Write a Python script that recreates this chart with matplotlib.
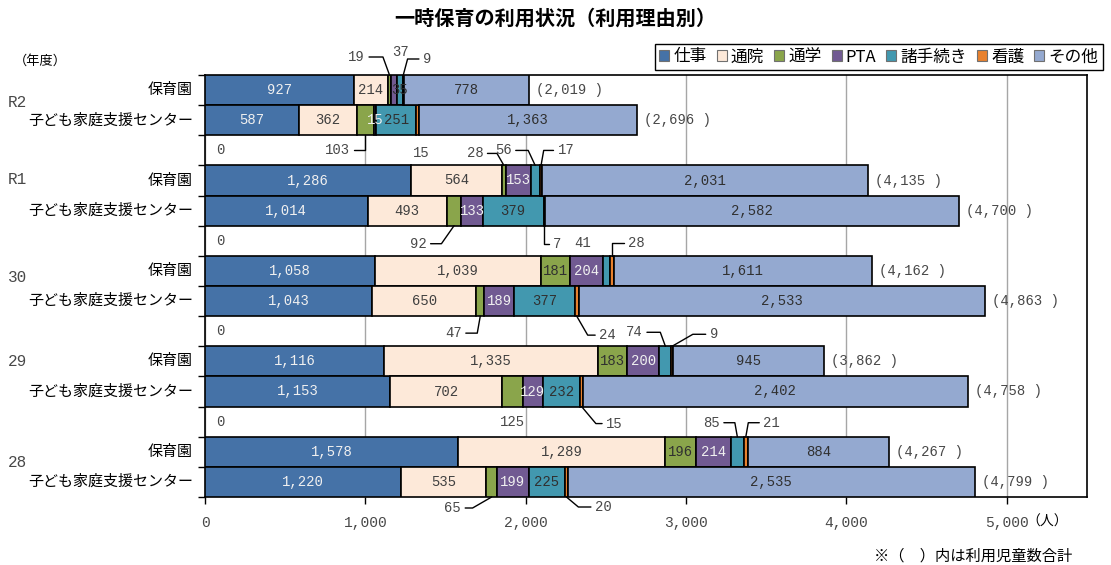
import matplotlib
matplotlib.use('Agg')
import matplotlib.pyplot as plt
from matplotlib.patches import Patch
from matplotlib.ticker import FuncFormatter
import numpy as np

plt.rcParams['font.family'] = ['Noto Sans CJK JP', 'DejaVu Sans']

title = "一時保育の利用状況（利用理由別）"
series_names = ["仕事", "通院", "通学", "PTA", "諸手続き", "看護", "その他"]
years = ["R2", "R1", "30", "29", "28"]
facilities = ["保育園", "子ども家庭支援センター"]

# bars in order: (R2 保育園, R2 子ども), (R1 ...), (30 ...), (29 ...), (28 ...)
shigoto   = [927, 587, 1286, 1014, 1058, 1043, 1116, 1153, 1578, 1220]
tsuin     = [214, 362, 564, 493, 1039, 650, 1335, 702, 1289, 535]
tsugaku   = [19, 103, 28, 92, 181, 47, 183, 125, 196, 65]
pta       = [37, 15, 153, 133, 204, 189, 200, 129, 214, 199]
tetsuzuki = [35, 251, 56, 379, 41, 377, 74, 232, 85, 225]
kango     = [9, 15, 17, 7, 28, 24, 9, 15, 21, 20]
sonota    = [778, 1363, 2031, 2582, 1611, 2533, 945, 2402, 884, 2535]
xticks = [0, 1000, 2000, 3000, 4000, 5000]

series = [shigoto, tsuin, tsugaku, pta, tetsuzuki, kango, sonota]
colors = ["#4572a7", "#fde9d9", "#8aa54b", "#715a92", "#4298af", "#e8812e", "#94a9d0"]
text_colors = ["#f0f0f0", "#404040", "#303030", "#f0f0f0", "#303030", "#303030", "#303030"]

# callout label placement: (bar index, series index) -> (dx px, dy px, leader steepness or None)
callouts = {
    (0, 2): (-33, 18, 70), (0, 3): (7, 23, None), (0, 5): (24, 16, 75),
    (1, 2): (-28, -15, 90), (1, 5): (4, -18, None),
    (2, 2): (-29, 12, 60), (2, 4): (-32, 15, 65), (2, 5): (25, 15, 80),
    (3, 2): (-36, -18, 55), (3, 5): (13, -18, 90),
    (4, 4): (-24, 13, None), (4, 5): (25, 13, 90),
    (5, 2): (-27, -17, 80), (5, 5): (31, -19, 60),
    (6, 4): (-31, 14, 70), (6, 5): (42, 12, 30),
    (7, 2): (0, -15, None), (7, 5): (33, -17, 50),
    (8, 4): (-26, 14, 80), (8, 5): (26, 14, 80),
    (9, 2): (-39, -11, 30), (9, 5): (37, -10, 40),
}
year_label_y = [0.40, 2.98, 6.23, 9.02, 12.37]

num_font = 'Liberation Mono'
num_color = '#484848'

fig = plt.figure(figsize=(11.11, 5.65), dpi=100)
ax = fig.add_axes([205/1111, 1-497/565, (1087-205)/1111, (497-75)/565])

nbars = len(shigoto)
ypos = np.array([3*(k//2) + (k % 2) for k in range(nbars)], dtype=float)

left = np.zeros(nbars)
for s, (vals, col) in enumerate(zip(series, colors)):
    vals = np.array(vals, dtype=float)
    ax.barh(ypos, vals, left=left, height=1.0, color=col, edgecolor='black',
            linewidth=1.2, zorder=3)
    for k in range(nbars):
        cx = left[k] + vals[k]/2
        txt = f"{int(vals[k]):,}"
        if (k, s) in callouts:
            dx, dy, steep = callouts[(k, s)]
            edge = ypos[k] - 0.5 if dy > 0 else ypos[k] + 0.5
            if steep is None:
                ax.annotate(txt, xy=(cx, edge), xytext=(dx, dy), textcoords='offset pixels',
                            ha='center', va='center', fontsize=10, family=num_font,
                            color=num_color, zorder=5)
            else:
                ang = 180 - steep if ((dx < 0) == (dy > 0)) else steep
                ax.annotate(txt, xy=(cx, edge), xytext=(dx, dy), textcoords='offset pixels',
                            ha='center', va='center', fontsize=10, family=num_font,
                            color=num_color, zorder=5,
                            arrowprops=dict(arrowstyle='-', color='black', lw=1.0,
                                            connectionstyle=f'angle,angleA=0,angleB={ang},rad=0',
                                            relpos=(1, 0.5) if dx < 0 else (0, 0.5),
                                            shrinkA=1, shrinkB=0))
        else:
            ax.text(cx, ypos[k], txt, ha='center', va='center', fontsize=10,
                    family=num_font, color=text_colors[s], zorder=5)
    left = left + vals

# totals
for k in range(nbars):
    ax.annotate(f"({int(left[k]):,} )", xy=(left[k], ypos[k]), xytext=(7, 0),
                textcoords='offset pixels', ha='left', va='center', fontsize=10,
                family=num_font, color=num_color, zorder=5)

# zero labels for spacer rows
for g in range(len(years) - 1):
    ax.annotate("0", xy=(0, 3*g + 2), xytext=(15, 0), textcoords='offset pixels',
                ha='center', va='center', fontsize=10, family=num_font, color=num_color)

# category labels
for k in range(nbars):
    ax.annotate(facilities[k % 2], xy=(0, ypos[k]), xycoords=('axes fraction', 'data'),
                xytext=(-12, 0), textcoords='offset pixels', ha='right', va='center',
                fontsize=10.8, color='black')

# year labels
for yl, yy in zip(years, year_label_y):
    ax.annotate(yl, xy=(8, yy), xycoords=('figure pixels', 'data'), ha='left',
                va='center', fontsize=11.5, family=num_font, color=num_color)

ax.set_xlim(0, 5500)
ax.set_ylim(13.5, -0.5)
ax.set_xticks(xticks)
ax.xaxis.set_major_formatter(FuncFormatter(lambda v, p: f"{int(v):,}"))
for lab in ax.get_xticklabels():
    lab.set_family(num_font)
ax.tick_params(axis='x', direction='out', length=5, width=1, pad=9, labelsize=10.5,
               labelcolor=num_color, color='black')
ax.set_yticks([])
ax.set_yticks(np.arange(-0.5, 14, 1), minor=True)
ax.tick_params(axis='y', which='minor', direction='out', length=5, width=1, color='black')
ax.grid(axis='x', color='#a6a6a6', linewidth=1.0, zorder=0)
ax.set_axisbelow(True)
for sp in ax.spines.values():
    sp.set_color('black')
    sp.set_linewidth(1.2)

fig.text(555/1111, 1-18/565, title, ha='center', va='center', fontsize=14.5,
         fontweight='bold')
fig.text(40/1111, 1-61/565, "（年度）", ha='center', va='center', fontsize=9.5)
fig.text(1047/1111, 1-522/565, "（人）", ha='center', va='center', fontsize=10)
fig.text(973/1111, 1-556/565, "※（　）内は利用児童数合計", ha='center', va='center',
         fontsize=11)

handles = [Patch(facecolor=c, edgecolor='#707070', linewidth=0.8) for c in colors]
leg = fig.legend(handles, series_names, loc='upper right',
                 bbox_to_anchor=(1111/1111, 1-36/565), ncol=7, frameon=True,
                 fancybox=False, edgecolor='black', framealpha=1,
                 handlelength=0.6, handleheight=0.6, handletextpad=0.25,
                 columnspacing=0.6, borderpad=0.25, fontsize=12)
leg.get_frame().set_linewidth(1.0)

fig.savefig('out.png', dpi=100)
